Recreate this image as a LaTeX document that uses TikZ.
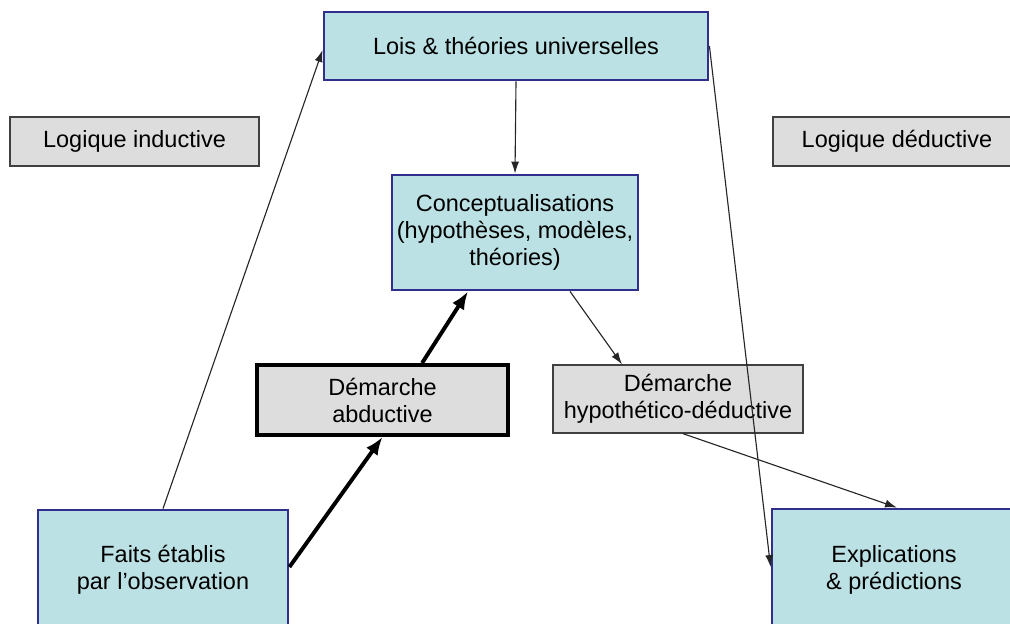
\documentclass[tikz,border=0pt]{standalone}
\usepackage{fontspec}
\setmainfont{Liberation Sans}
\usetikzlibrary{arrows.meta}
\definecolor{boxcyan}{RGB}{187,225,228}
\definecolor{boxblue}{RGB}{48,48,140}
\definecolor{boxgray}{RGB}{221,221,221}

\begin{document}
\begin{tikzpicture}[x=0.25mm, y=-0.25mm,
        every node/.style={font=\fontsize{16.7}{19.2}\selectfont, align=center, inner sep=0pt},
        bluebox/.style={draw=boxblue, line width=2pt, fill=boxcyan},
        graybox/.style={draw=black!75, line width=0.9pt, fill=boxgray},
        thinarrow/.style={-{Latex[length=3mm,width=2mm]}, line width=0.8pt, black!85},
        thickarrow/.style={-{Latex[length=4.5mm,width=3.5mm]}, line width=2.8pt}]
        % Page frame
        \useasboundingbox (0,0) rectangle (1010,623);

        % Boxes
        \node[bluebox, minimum width=96mm, minimum height=17mm] (lois) at (516,46) {Lois \& théories universelles};
        \node[graybox, minimum width=62.25mm, minimum height=12.25mm] (inductive) at (134.5,141.5) {Logique inductive};
        \node[graybox, minimum width=62mm, minimum height=12.25mm] (deductive) at (897,141.5) {Logique déductive};
        \node[bluebox, minimum width=61.5mm, minimum height=28.75mm] (concept) at (515,232.5) {Conceptualisations\\(hypothèses, modèles,\\théories)};
        \node[graybox, draw=black, line width=2.8pt, minimum width=62.75mm, minimum height=17.5mm] (abduct) at (382.5,400) {Démarche\\abductive};
        \node[graybox, minimum width=62.5mm, minimum height=17mm] (hypo) at (678,399) {Démarche\\hypothético-déductive};
        \node[bluebox, minimum width=62.5mm, minimum height=30mm] (faits) at (163,570) {Faits établis\\par l’observation};
        \node[bluebox, minimum width=61mm, minimum height=30.5mm] (expl) at (894,570) {Explications\\\& prédictions};

        % Thin arrows
        \draw[thinarrow] (faits.north) -- ([yshift=-1mm]lois.west); % induction
        \draw[thinarrow] (lois.south) -- (concept.north);
        \draw[thinarrow] (lois.east) -- ([yshift=0.75mm]expl.west); % deduction
        \draw[thinarrow] ([xshift=13.75mm]concept.south) -- ([xshift=-14mm]hypo.north);
        \draw[thinarrow] ([xshift=1.25mm]hypo.south) -- ([xshift=0.75mm]expl.north);

        % Thick arrows
        \draw[thickarrow] ([yshift=0.75mm]faits.east) -- (abduct.south);
        \draw[thickarrow] ([xshift=9.9mm]abduct.north) -- ([xshift=-11.75mm]concept.south);
    \end{tikzpicture}
\end{document}
